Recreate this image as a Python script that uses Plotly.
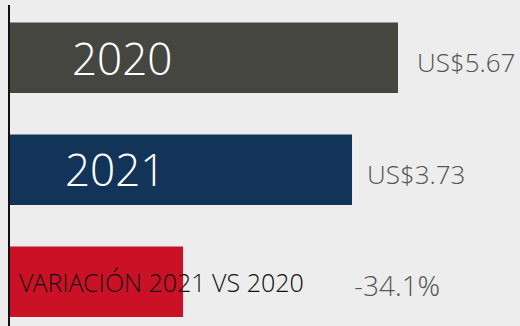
import plotly.graph_objects as go

# Data
categories = ["2020", "2021", "VARIACIÓN 2021 VS 2020"]
values = [5.67, 3.73, -34.1]
value_labels = ["US$5.67", "US$3.73", "-34.1%"]
bar_colors = ["#464641", "#133459", "#cb1126"]

# Each bar gets its own hidden x scale (infographic style, not to a common scale)
x_ranges = [[0, 7.453], [0, 5.562], [0, -100.5]]
axis_ids = ["x", "x2", "x3"]

BG = "#ededed"
FONT = "Open Sans Light, Open Sans"

fig = go.Figure()
for i, (cat, val, col, ax) in enumerate(zip(categories, values, bar_colors, axis_ids)):
    fig.add_trace(go.Bar(
        x=[val], y=[i], orientation="h", width=0.63,
        marker=dict(color=col, line=dict(width=0)),
        xaxis=ax, yaxis="y", showlegend=False, hoverinfo="skip",
    ))

hidden = dict(visible=False, showgrid=False, zeroline=False, fixedrange=True)
fig.update_layout(
    width=520, height=326,
    margin=dict(l=10, r=0, t=5, b=0),
    paper_bgcolor=BG, plot_bgcolor=BG,
    xaxis=dict(range=x_ranges[0], **hidden),
    xaxis2=dict(range=x_ranges[1], overlaying="x", anchor="y", **hidden),
    xaxis3=dict(range=x_ranges[2], overlaying="x", anchor="y", **hidden),
    yaxis=dict(range=[2.396, -0.4705], showline=True, linecolor="#111111", linewidth=1.5,
               showticklabels=False, showgrid=False, zeroline=False, ticks="",
               fixedrange=True),
)

# Labels inside the year bars
fig.add_annotation(text=categories[0], xref="paper", x=(122 - 10) / 510, xanchor="center",
                   yref="y", y=0, showarrow=False,
                   font=dict(family=FONT, size=44, color="white", weight=300))
fig.add_annotation(text=categories[1], xref="paper", x=(115 - 10) / 510, xanchor="center",
                   yref="y", y=1, yshift=1, showarrow=False,
                   font=dict(family=FONT, size=44, color="white", weight=300))
# Variation caption, overflowing the red bar
fig.add_annotation(text=categories[2], xref="paper", x=(17 - 10) / 510, xanchor="left",
                   yref="y", y=2, showarrow=False,
                   font=dict(family=FONT, size=25, color="#111111", weight=300))

# Value labels to the right of each bar
shifts = [17, 13, 169]
yshifts = [-4, -4, -3]
sizes = [26, 26, 28]
for i, (lab, val, ax) in enumerate(zip(value_labels, values, axis_ids)):
    fig.add_annotation(text=lab, xref=ax, x=val, xanchor="left", xshift=shifts[i],
                       yref="y", y=i, yshift=yshifts[i], showarrow=False,
                       font=dict(family=FONT, size=sizes[i], color="#555555", weight=300))

fig.write_html("out.html")
